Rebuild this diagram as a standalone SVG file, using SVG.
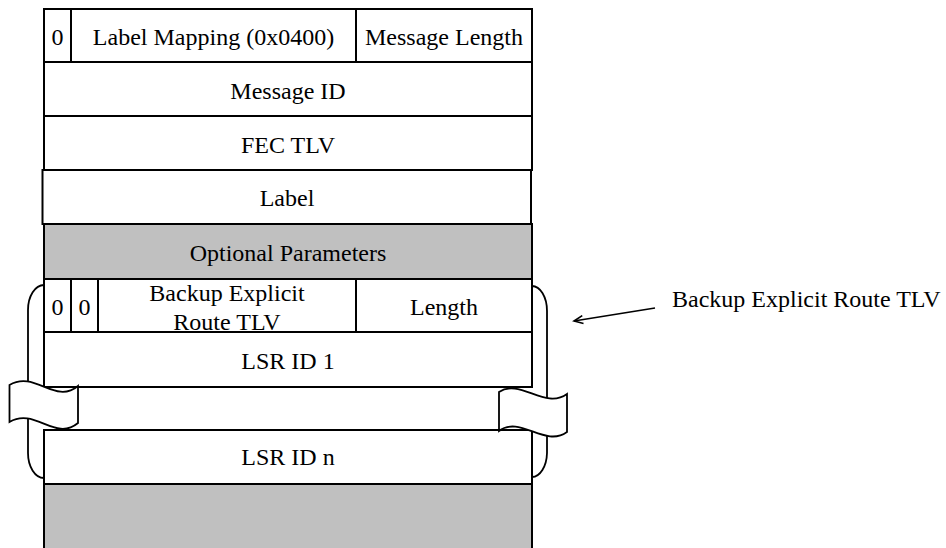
<svg xmlns="http://www.w3.org/2000/svg" width="946" height="548" viewBox="0 0 946 548">
<defs>
<style>
.box{fill:#fff;stroke:#000;stroke-width:2}
.gray{fill:#c0c0c0;stroke:#000;stroke-width:2}
.div{stroke:#000;stroke-width:2}
text{font-family:'Liberation Serif','Times New Roman',Times,'DejaVu Serif',serif;font-size:24px;fill:#000}
.t{text-anchor:middle}
.br{fill:none;stroke:#000;stroke-width:1.8}
.flag{fill:#fff;stroke:#000;stroke-width:1.8}
</style>
<marker id="ah" markerWidth="12" markerHeight="10" refX="10" refY="5" orient="auto" markerUnits="userSpaceOnUse">
<path d="M1,1 L10,5 L1,9" fill="none" stroke="#000" stroke-width="1.6"/>
</marker>
</defs>
<rect width="946" height="548" fill="#fff"/>

<g id="header">
<rect class="box" x="44" y="9" width="488" height="53"/>
<line class="div" x1="71" y1="9" x2="71" y2="62"/>
<line class="div" x1="356" y1="9" x2="356" y2="62"/>
<text class="t" x="57.5" y="45">0</text>
<text class="t" x="213.5" y="45">Label Mapping (0x0400)</text>
<text class="t" x="444" y="45">Message Length</text>
</g>

<g id="message-id">
<rect class="box" x="44" y="62" width="488" height="54"/>
<text class="t" x="288" y="99">Message ID</text>
</g>

<g id="fec-tlv">
<rect class="box" x="44" y="116" width="488" height="54"/>
<text class="t" x="288" y="152.5">FEC TLV</text>
</g>

<g id="label">
<rect class="box" x="42.5" y="170" width="488.5" height="54"/>
<text class="t" x="287" y="206">Label</text>
</g>

<g id="optional-parameters">
<rect class="gray" x="44" y="224" width="488" height="55"/>
<text class="t" x="288" y="261">Optional Parameters</text>
</g>

<g id="bracket">
<path class="br" d="M44,285 A16,25 0 0 0 28,310 L28,453 A16,25 0 0 0 44,478"/>
<path class="br" d="M532,286 A15,25 0 0 1 547,311 L547,453 A15,25 0 0 1 532,477"/>
</g>

<g id="backup-tlv-header">
<rect class="box" x="44" y="279" width="488" height="53"/>
<line class="div" x1="71" y1="279" x2="71" y2="332"/>
<line class="div" x1="98" y1="279" x2="98" y2="332"/>
<line class="div" x1="356" y1="279" x2="356" y2="332"/>
<text class="t" x="57.5" y="315">0</text>
<text class="t" x="84.5" y="315">0</text>
<text class="t" x="227" y="300.5">Backup Explicit</text>
<text class="t" x="227" y="330">Route TLV</text>
<text class="t" x="444" y="315">Length</text>
</g>

<g id="lsr-id-1">
<rect class="box" x="44" y="332" width="488" height="55"/>
<text class="t" x="288" y="369">LSR ID 1</text>
</g>

<g id="lsr-id-n">
<rect class="box" x="44" y="430" width="488" height="54"/>
<text class="t" x="288" y="465">LSR ID n</text>
</g>

<g id="remaining">
<rect class="gray" x="44" y="484" width="488" height="70"/>
</g>

<g id="break-marks">
<path class="flag" d="M9.5,385 C35,370 55,405 78,386 L78,423 C55,442 35,407 9.5,422 Z"/>
<path class="flag" d="M499,392 C520,378 545,410 567,394 L567,432 C545,448 520,415 499,431 Z"/>
</g>

<g id="connectors">
<line x1="655" y1="308" x2="574" y2="321" stroke="#000" stroke-width="1.6" marker-end="url(#ah)"/>
</g>

<g id="callout-label">
<text x="672" y="307">Backup Explicit Route TLV</text>
</g>
</svg>
